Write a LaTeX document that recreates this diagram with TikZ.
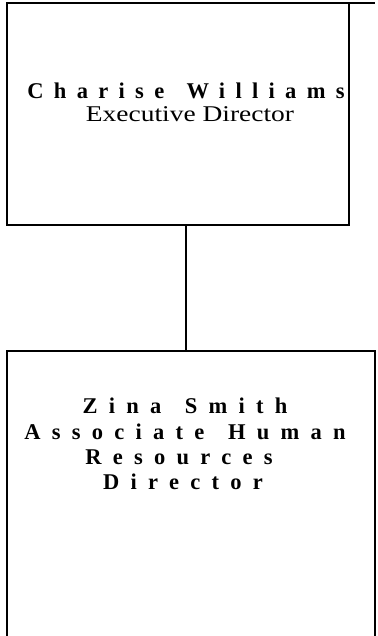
\documentclass[tikz,border=0pt]{standalone}
\usepackage{fontspec}
\setmainfont{Liberation Serif}
\newfontfamily\spacedtop[LetterSpace=45.8,WordSpace=1.4]{Liberation Serif}
\newfontfamily\spacedbot[LetterSpace=50,WordSpace=1.4]{Liberation Serif}
\newfontfamily\widefont[FakeStretch=1.22]{Liberation Serif}
\tikzset{
  box/.style={draw=black, line width=2.5pt, rectangle, inner sep=0pt, outer sep=0pt},
  conn/.style={draw=black, line width=1.2pt},
  toplabel/.style={anchor=base, inner sep=0pt, font=\fontsize{22.5}{27}\selectfont\spacedtop\bfseries},
  botlabel/.style={anchor=base, inner sep=0pt, font=\fontsize{22.5}{27}\selectfont\spacedbot\bfseries},
  titlelabel/.style={anchor=base, inner sep=0pt, font=\fontsize{22.5}{27}\selectfont\widefont},
}
\begin{document}
\begin{tikzpicture}[x=1pt,y=-1pt]
\clip (0,0) rectangle (377,636);
\fill[white] (0,0) rectangle (377,636);
% boxes
\node[box, minimum width=342pt, minimum height=222pt] (exec) at (178,114) {};
\node[box, minimum width=368pt, minimum height=349pt] (hr) at (191,525.5) {};
% top rule extending right
\coordinate (topend) at (375,3);
\draw[line width=2.2pt] (exec.north west) -- (topend);
% connector
\coordinate (cx) at (186,0);
\draw[conn] (exec.south -| cx) -- (hr.north -| cx);
% texts
\node[toplabel] (n1) at (186,99) {Charise Williams};
\node[titlelabel] (t1) at (190,122) {Executive Director};
\node[botlabel] (n2) at (185,413) {Zina Smith};
\node[botlabel] (t2a) at (185,439) {Associate Human};
\node[botlabel] (t2b) at (179,464) {Resources};
\node[botlabel] (t2c) at (183,489) {Director};
\end{tikzpicture}
\end{document}
